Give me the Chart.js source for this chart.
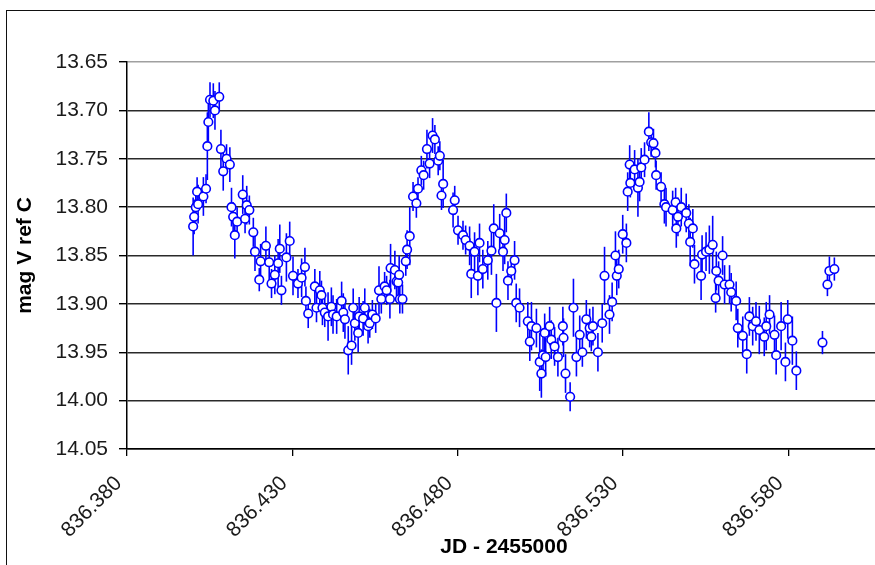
<!DOCTYPE html>
<html>
<head>
<meta charset="utf-8">
<script src="https://cdn.jsdelivr.net/npm/chart.js@4/dist/chart.umd.min.js"></script>
<style>
  html, body { margin:0; padding:0; width:875px; height:565px; overflow:hidden; background:#fff; }
  #frame { position:absolute; left:6px; top:10px; width:1000px; height:700px;
           border-left:1.5px solid #111; border-top:1.5px solid #111; }
  #chart { position:absolute; left:0; top:0; }
</style>
</head>
<body>
<div id="frame"></div>
<canvas id="chart" width="940" height="565"></canvas>
<script>
// ====== dados ======
const xTicks = [836.380, 836.430, 836.480, 836.530, 836.580];
const yTicks = [13.65, 13.70, 13.75, 13.80, 13.85, 13.90, 13.95, 14.00, 14.05];

const jd = [
  836.4000, 836.4003, 836.4008, 836.4012, 836.4015, 836.4031, 836.4039, 836.4043, 836.4046, 836.4051,
  836.4061, 836.4066, 836.4079, 836.4084, 836.4091, 836.4101, 836.4111, 836.4116, 836.4121, 836.4126,
  836.4133, 836.4150, 836.4157, 836.4162, 836.4170, 836.4182, 836.4187, 836.4200, 836.4204, 836.4220,
  836.4230, 836.4237, 836.4247, 836.4257, 836.4262, 836.4267, 836.4282, 836.4292, 836.4302, 836.4317,
  836.4328, 836.4338, 836.4341, 836.4348, 836.4368, 836.4373, 836.4383, 836.4388, 836.4391, 836.4398,
  836.4408, 836.4418, 836.4423, 836.4434, 836.4449, 836.4454, 836.4459, 836.4469, 836.4479, 836.4484,
  836.4489, 836.4499, 836.4502, 836.4514, 836.4519, 836.4529, 836.4534, 836.4542, 836.4552, 836.4562,
  836.4569, 836.4579, 836.4585, 836.4595, 836.4597, 836.4610, 836.4615, 836.4620, 836.4623, 836.4625,
  836.4633, 836.4643, 836.4647, 836.4655, 836.4665, 836.4675, 836.4680, 836.4690, 836.4697, 836.4707,
  836.4715, 836.4724, 836.4731, 836.4741, 836.4746, 836.4751, 836.4756, 836.4786, 836.4791, 836.4801,
  836.4816, 836.4824, 836.4836, 836.4841, 836.4851, 836.4861, 836.4866, 836.4876, 836.4891, 836.4902,
  836.4909, 836.4917, 836.4927, 836.4937, 836.4942, 836.4947, 836.4952, 836.4962, 836.4972, 836.4977,
  836.4987, 836.5012, 836.5018, 836.5023, 836.5038, 836.5048, 836.5053, 836.5058, 836.5063, 836.5066,
  836.5078, 836.5083, 836.5093, 836.5103, 836.5118, 836.5120, 836.5126, 836.5140, 836.5150, 836.5159,
  836.5169, 836.5177, 836.5189, 836.5199, 836.5204, 836.5209, 836.5224, 836.5237, 836.5244, 836.5259,
  836.5267, 836.5277, 836.5281, 836.5287, 836.5299, 836.5310, 836.5314, 836.5320, 836.5322, 836.5335,
  836.5345, 836.5350, 836.5355, 836.5365, 836.5378, 836.5385, 836.5392, 836.5398, 836.5400, 836.5415,
  836.5425, 836.5430, 836.5450, 836.5459, 836.5461, 836.5466, 836.5476, 836.5491, 836.5499, 836.5503,
  836.5511, 836.5516, 836.5536, 836.5539, 836.5551, 836.5561, 836.5571, 836.5580, 836.5582, 836.5589,
  836.5601, 836.5607, 836.5622, 836.5627, 836.5642, 836.5647, 836.5662, 836.5674, 836.5682, 836.5692,
  836.5702, 836.5712, 836.5727, 836.5733, 836.5743, 836.5758, 836.5763, 836.5778, 836.5791, 836.5798,
  836.5812, 836.5824, 836.5903, 836.5918, 836.5924, 836.5939
];

const mag = [
  13.820, 13.810, 13.800, 13.784, 13.797, 13.789, 13.781, 13.737, 13.712, 13.689,
  13.690, 13.700, 13.686, 13.740, 13.763, 13.750, 13.756, 13.800, 13.810, 13.829,
  13.815, 13.787, 13.812, 13.798, 13.803, 13.826, 13.846, 13.875, 13.856, 13.840,
  13.857, 13.879, 13.870, 13.858, 13.843, 13.886, 13.852, 13.835, 13.871, 13.879,
  13.873, 13.862, 13.897, 13.910, 13.882, 13.904, 13.886, 13.891, 13.904, 13.909,
  13.913, 13.903, 13.911, 13.913, 13.897, 13.909, 13.916, 13.948, 13.943, 13.904,
  13.920, 13.930, 13.913, 13.915, 13.904, 13.923, 13.920, 13.911, 13.915, 13.886,
  13.895, 13.882, 13.886, 13.895, 13.863, 13.865, 13.877, 13.878, 13.870, 13.895,
  13.895, 13.856, 13.844, 13.830, 13.789, 13.796, 13.781, 13.762, 13.767, 13.740,
  13.755, 13.726, 13.730, 13.752, 13.747, 13.788, 13.776, 13.803, 13.793, 13.824,
  13.829, 13.834, 13.840, 13.869, 13.846, 13.871, 13.837, 13.864, 13.855, 13.845,
  13.822, 13.899, 13.827, 13.846, 13.834, 13.806, 13.876, 13.866, 13.855, 13.899,
  13.904, 13.918, 13.939, 13.923, 13.925, 13.960, 13.972, 13.953, 13.930, 13.955,
  13.923, 13.937, 13.944, 13.955, 13.923, 13.935, 13.972, 13.996, 13.904, 13.955,
  13.932, 13.950, 13.916, 13.925, 13.934, 13.923, 13.950, 13.920, 13.871, 13.911,
  13.898, 13.850, 13.871, 13.864, 13.828, 13.837, 13.784, 13.756, 13.775, 13.761,
  13.780, 13.774, 13.759, 13.751, 13.722, 13.733, 13.734, 13.744, 13.767, 13.779,
  13.797, 13.800, 13.803, 13.795, 13.822, 13.810, 13.800, 13.806, 13.817, 13.836,
  13.822, 13.859, 13.871, 13.849, 13.846, 13.844, 13.839, 13.894, 13.866, 13.876,
  13.850, 13.880, 13.880, 13.888, 13.897, 13.925, 13.933, 13.952, 13.913, 13.923,
  13.918, 13.927, 13.934, 13.923, 13.911, 13.932, 13.953, 13.923, 13.960, 13.916,
  13.938, 13.969, 13.940, 13.880, 13.866, 13.864
];

// barras de erro (±)
const err = [
  0.030, 0.018, 0.015, 0.015, 0.020, 0.020, 0.015, 0.035, 0.020, 0.018,
  0.018, 0.020, 0.015, 0.020, 0.020, 0.015, 0.018, 0.020, 0.015, 0.024,
  0.015, 0.020, 0.015, 0.020, 0.015, 0.015, 0.020, 0.012, 0.018, 0.020,
  0.020, 0.015, 0.020, 0.025, 0.025, 0.015, 0.025, 0.020, 0.020, 0.015,
  0.020, 0.020, 0.015, 0.015, 0.018, 0.015, 0.020, 0.015, 0.018, 0.015,
  0.025, 0.020, 0.020, 0.018, 0.020, 0.020, 0.020, 0.025, 0.020, 0.020,
  0.018, 0.020, 0.020, 0.018, 0.020, 0.018, 0.015, 0.015, 0.015, 0.025,
  0.015, 0.015, 0.015, 0.020, 0.025, 0.020, 0.015, 0.015, 0.020, 0.015,
  0.015, 0.015, 0.020, 0.030, 0.015, 0.015, 0.012, 0.015, 0.015, 0.020,
  0.015, 0.018, 0.015, 0.015, 0.015, 0.015, 0.025, 0.018, 0.015, 0.015,
  0.015, 0.015, 0.020, 0.025, 0.020, 0.020, 0.020, 0.020, 0.020, 0.025,
  0.025, 0.030, 0.020, 0.020, 0.025, 0.020, 0.020, 0.015, 0.020, 0.020,
  0.020, 0.020, 0.020, 0.025, 0.020, 0.030, 0.025, 0.020, 0.020, 0.020,
  0.020, 0.020, 0.020, 0.020, 0.020, 0.020, 0.020, 0.015, 0.030, 0.020,
  0.020, 0.015, 0.020, 0.020, 0.015, 0.020, 0.020, 0.020, 0.030, 0.020,
  0.020, 0.025, 0.020, 0.020, 0.020, 0.020, 0.020, 0.020, 0.015, 0.020,
  0.030, 0.020, 0.020, 0.018, 0.020, 0.015, 0.015, 0.015, 0.015, 0.015,
  0.020, 0.020, 0.020, 0.015, 0.020, 0.020, 0.020, 0.020, 0.020, 0.025,
  0.020, 0.020, 0.025, 0.020, 0.020, 0.025, 0.030, 0.015, 0.020, 0.020,
  0.020, 0.020, 0.020, 0.020, 0.020, 0.020, 0.020, 0.020, 0.020, 0.020,
  0.020, 0.025, 0.020, 0.025, 0.020, 0.020, 0.020, 0.025, 0.020, 0.020,
  0.025, 0.020, 0.012, 0.012, 0.015, 0.012
];

const blue = '#0000ff';
const font = 'Arial, "Liberation Sans", sans-serif';

// ====== barras de erro desenhadas antes dos pontos ======
const errorBars = {
  id: 'errorBars',
  beforeDatasetsDraw(chart) {
    const {ctx, scales: {x, y}, chartArea} = chart;
    ctx.save();
    ctx.beginPath();
    ctx.rect(chartArea.left, chartArea.top, chartArea.right - chartArea.left, chartArea.bottom - chartArea.top);
    ctx.clip();
    ctx.strokeStyle = blue;
    ctx.lineWidth = 1.6;
    jd.forEach((v, i) => {
      const px = x.getPixelForValue(v);
      const e = err[i] || 0;
      ctx.beginPath();
      ctx.moveTo(px, y.getPixelForValue(mag[i] - e));
      ctx.lineTo(px, y.getPixelForValue(mag[i] + e));
      ctx.stroke();
    });
    ctx.restore();
  }
};

new Chart(document.getElementById('chart').getContext('2d'), {
  type: 'scatter',
  data: {
    datasets: [{
      label: 'mag V ref C',
      data: jd.map((v, i) => ({x: v, y: mag[i]})),
      pointRadius: 4.3,
      pointBackgroundColor: '#fff',
      pointBorderColor: blue,
      pointBorderWidth: 1.6,
      showLine: false
    }]
  },
  options: {
    responsive: false,
    animation: false,
    devicePixelRatio: 1,
    layout: { padding: { top: 62, left: 0, right: 59, bottom: 0 } },
    plugins: { legend: { display: false }, tooltip: { enabled: false } },
    scales: {
      x: {
        type: 'linear',
        min: 836.380,
        max: 836.608,
        afterBuildTicks: s => { s.ticks = xTicks.map(v => ({value: v})); },
        afterFit: s => { s.height = 116; },
        grid: { drawOnChartArea: false, drawTicks: true, tickLength: 7, tickColor: '#000', lineWidth: 1.3 },
        border: { color: '#000', width: 1.5 },
        ticks: {
          minRotation: 45, maxRotation: 45, padding: 7,
          color: '#1a1a1a', font: { family: font, size: 21 },
          // espaços finais empurram o rótulo rodado para baixo/esquerda, como no Excel
          callback: v => Number(v).toFixed(3) + '  '
        },
        title: {
          display: true, text: 'JD - 2455000', color: '#000',
          font: { family: font, size: 21, weight: 'bold' },
          padding: { top: 0, bottom: 5 }
        }
      },
      y: {
        reverse: true,
        min: 13.65,
        max: 14.05,
        afterBuildTicks: s => { s.ticks = yTicks.map(v => ({value: v})); },
        afterFit: s => { s.width = 127; },
        grid: {
          color: c => c.tick && c.tick.value === 13.65 ? '#a0a0a0' : '#2a2a2a',
          lineWidth: 1.4, tickLength: 8, tickColor: '#000'
        },
        border: { color: '#000', width: 1.5 },
        ticks: {
          padding: 11, color: '#1a1a1a', font: { family: font, size: 21 },
          callback: v => Number(v).toFixed(2)
        },
        title: {
          display: true, text: 'mag V ref C', color: '#000',
          font: { family: font, size: 21, weight: 'bold' },
          padding: { top: 13, bottom: 0 }
        }
      }
    }
  },
  plugins: [errorBars]
});
</script>
</body>
</html>
